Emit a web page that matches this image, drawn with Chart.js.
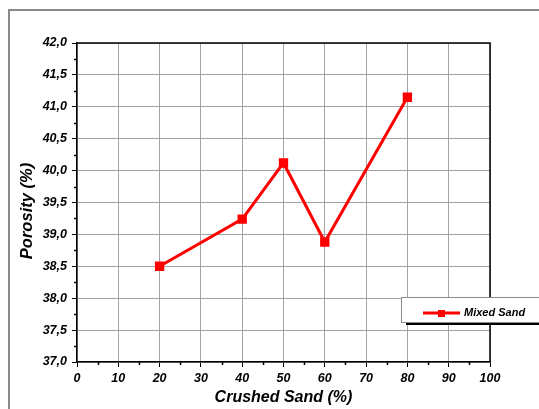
<!DOCTYPE html>
<html>
<head>
<meta charset="utf-8">
<script src="https://cdn.jsdelivr.net/npm/chart.js@4/dist/chart.umd.min.js"></script>
<style>
  html, body { margin: 0; padding: 0; background: #fff; }
  #wrap { width: 539px; height: 409px; }
</style>
</head>
<body>
<div id="wrap"><canvas id="chart" width="539" height="409"></canvas></div>
<script>
// data
const crushedSand = [20, 40, 50, 60, 80]
const porosity = [38.5, 39.24, 40.12, 38.88, 41.15]
const seriesName = 'Mixed Sand'
const xTitle = 'Crushed Sand (%)'
const yTitle = 'Porosity (%)'

const ctx = document.getElementById('chart').getContext('2d')
const fam = '"Liberation Sans", Arial, sans-serif'

const isMajorX = v => Math.abs(v % 10) < 1e-6
const isMajorY = v => Math.abs((v * 2) % 1) < 1e-6

// frame, plot border, minor ticks, y title (sits a bit low, like the original) and the boxed legend
const extras = {
  id: 'extras',
  afterDraw(chart) {
    const c = chart.ctx
    const a = chart.chartArea
    const xs = chart.scales.x
    const ys = chart.scales.y
    c.save()
    // outer gray frame
    c.strokeStyle = '#8a8a8a'
    c.lineWidth = 2
    c.beginPath()
    c.moveTo(9, 409)
    c.lineTo(9, 10)
    c.lineTo(539, 10)
    c.stroke()
    // top + right border of the plot
    c.strokeStyle = '#000'
    c.lineWidth = 1.5
    c.beginPath()
    c.moveTo(a.left, a.top)
    c.lineTo(a.right, a.top)
    c.lineTo(a.right, a.bottom)
    c.stroke()
    // minor ticks
    c.lineWidth = 1.5
    c.beginPath()
    xs.ticks.forEach(t => {
      if (!isMajorX(t.value)) {
        const px = Math.round(xs.getPixelForValue(t.value)) + 0.5
        c.moveTo(px, a.bottom)
        c.lineTo(px, a.bottom + 3)
      }
    })
    ys.ticks.forEach(t => {
      if (!isMajorY(t.value)) {
        const py = Math.round(ys.getPixelForValue(t.value)) + 0.5
        c.moveTo(a.left, py)
        c.lineTo(a.left - 3, py)
      }
    })
    c.stroke()
    // y title
    c.save()
    c.translate(27, 211)
    c.rotate(-Math.PI / 2)
    c.fillStyle = '#000'
    c.font = 'italic bold 16.5px ' + fam
    c.textAlign = 'center'
    c.textBaseline = 'middle'
    c.fillText(yTitle, 0, 0)
    c.restore()
    // legend box
    const bx = 401, by = 297, bw = 140, bh = 25
    c.fillStyle = '#000'
    c.fillRect(bx + 5, by + bh, bw, 3)
    c.fillStyle = '#fff'
    c.fillRect(bx, by, bw, bh)
    c.strokeStyle = '#8a8a8a'
    c.lineWidth = 1
    c.strokeRect(bx + 0.5, by + 0.5, bw, bh)
    c.strokeStyle = '#ff0000'
    c.lineWidth = 3
    c.beginPath()
    c.moveTo(423, 313)
    c.lineTo(460, 313)
    c.stroke()
    c.fillStyle = '#ff0000'
    c.fillRect(438, 310, 7, 7)
    c.fillStyle = '#000'
    c.font = 'italic bold 11px ' + fam
    c.textBaseline = 'middle'
    c.fillText(seriesName, 464, 313)
    c.restore()
  }
}

const data = {
  datasets: [{
    label: seriesName,
    data: crushedSand.map((x, i) => ({ x: x, y: porosity[i] })),
    borderColor: '#ff0000',
    backgroundColor: '#ff0000',
    borderWidth: 3,
    pointStyle: 'rect',
    pointRadius: 4.5,
    pointHoverRadius: 4.5,
    tension: 0
  }]
}

const config = {
  type: 'line',
  data: data,
  options: {
    responsive: false,
    animation: false,
    layout: { padding: { left: 17, top: 43, right: 49, bottom: 0 } },
    plugins: { legend: { display: false }, tooltip: { enabled: false } },
    scales: {
      x: {
        type: 'linear',
        min: 0,
        max: 100,
        afterFit: s => { s.height = 47 },
        ticks: {
          stepSize: 5,
          autoSkip: false,
          maxRotation: 0,
          padding: 4,
          color: '#000',
          font: { family: fam, size: 12.5, style: 'italic', weight: 'bold' },
          callback: v => isMajorX(v) ? String(v) : ''
        },
        grid: {
          color: c => isMajorX(c.tick.value) ? '#a3a3a3' : 'rgba(0,0,0,0)',
          tickColor: c => isMajorX(c.tick.value) ? '#000' : 'rgba(0,0,0,0)',
          tickLength: 5,
          lineWidth: 1
        },
        border: { color: '#000', width: 1.5 },
        title: {
          display: true,
          text: xTitle,
          color: '#000',
          padding: { top: 0, bottom: 2 },
          font: { family: fam, size: 16, style: 'italic', weight: 'bold' }
        }
      },
      y: {
        min: 37,
        max: 42,
        afterFit: s => { s.width = 60 },
        ticks: {
          stepSize: 0.25,
          autoSkip: false,
          padding: 5,
          color: '#000',
          font: { family: fam, size: 12.5, style: 'italic', weight: 'bold' },
          callback: v => isMajorY(v) ? v.toFixed(1).replace('.', ',') : ''
        },
        grid: {
          color: c => isMajorY(c.tick.value) ? '#a3a3a3' : 'rgba(0,0,0,0)',
          tickColor: c => isMajorY(c.tick.value) ? '#000' : 'rgba(0,0,0,0)',
          tickLength: 5,
          lineWidth: 1
        },
        border: { color: '#000', width: 1.5 }
      }
    }
  },
  plugins: [extras]
}

const myChart = new Chart(ctx, config)
</script>
</body>
</html>
